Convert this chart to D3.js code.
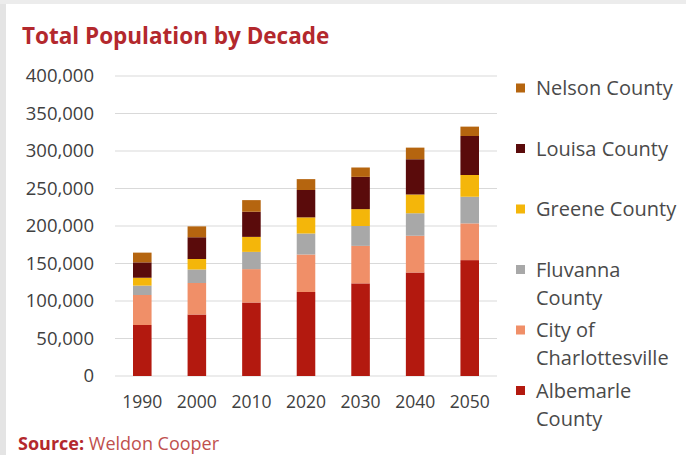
<!DOCTYPE html>
<html>
<head>
<meta charset="utf-8">
<script src="https://cdn.jsdelivr.net/npm/d3@7"></script>
<style>
  body { margin: 0; background: #fff; }
  svg { display: block; font-family: "Open Sans", sans-serif; }
</style>
</head>
<body>
<svg id="chart" width="686" height="455"></svg>
<script>
const years = ["1990", "2000", "2010", "2020", "2030", "2040", "2050"];
const seriesNames = ["Albemarle County", "City of Charlottesville", "Fluvanna County", "Greene County", "Louisa County", "Nelson County"];
const albemarle = [68000, 82000, 98000, 112000, 123500, 138000, 154500];
const charlottesville = [40000, 42000, 44500, 50000, 50000, 49000, 49000];
const fluvanna = [12500, 18000, 23000, 28000, 26500, 30000, 35500];
const greene = [10500, 14000, 20000, 21500, 22500, 25000, 29000];
const louisa = [20500, 29000, 33500, 36500, 43000, 47000, 52000];
const nelson = [13000, 14500, 15500, 14500, 12500, 15500, 12500];
const colors = ["#b3190f", "#f08f68", "#a8a8a8", "#f4b60a", "#5a0b0b", "#b5650f"];
const yTicks = [0, 50000, 100000, 150000, 200000, 250000, 300000, 350000, 400000];
// legend text, top to bottom, with line breaks as in the picture
const legendLines = [
  ["Nelson County"], ["Louisa County"], ["Greene County"],
  ["Fluvanna", "County"], ["City of", "Charlottesville"], ["Albemarle", "County"]
];

const svg = d3.select("#chart");
const seriesData = [albemarle, charlottesville, fluvanna, greene, louisa, nelson];

// left dotted strip of the original screenshot
svg.append("rect").attr("x", 0).attr("y", 0).attr("width", 6).attr("height", 455).attr("fill", "#e4e4e4");
svg.append("rect").attr("x", 0).attr("y", 0).attr("width", 686).attr("height", 4).attr("fill", "#ececec");

svg.append("text")
  .attr("x", 22).attr("y", 44)
  .attr("font-size", 22.5).attr("font-weight", "bold")
  .attr("fill", "#b3282d")
  .text("Total Population by Decade");

const x = d3.scaleBand().domain(years).range([115, 497]).paddingInner(0.66).paddingOuter(0.33);
const y = d3.scaleLinear().domain([0, 400000]).range([376, 76]);

// gridlines
svg.append("g").selectAll("line")
  .data(yTicks)
  .join("line")
  .attr("x1", 115).attr("x2", 497)
  .attr("y1", d => y(d)).attr("y2", d => y(d))
  .attr("stroke", "#d9d9d9").attr("stroke-width", 1.2);

const yAxis = svg.append("g")
  .attr("transform", "translate(94,0)")
  .call(d3.axisLeft(y).tickValues(yTicks).tickFormat(d3.format(",")).tickSize(0).tickPadding(0));
yAxis.select(".domain").remove();
yAxis.selectAll("text").attr("font-size", 18.5).attr("fill", "#404040").attr("font-family", "Open Sans");

const xAxis = svg.append("g")
  .attr("transform", "translate(0,396)")
  .call(d3.axisBottom(x).tickSize(0).tickPadding(0));
xAxis.select(".domain").remove();
xAxis.selectAll("text").attr("font-size", 17.5).attr("fill", "#404040").attr("font-family", "Open Sans");

const table = years.map((yr, i) => {
  const row = { year: yr };
  seriesNames.forEach((s, j) => row[s] = seriesData[j][i]);
  return row;
});
const stack = d3.stack().keys(seriesNames)(table);

svg.append("g").selectAll("g")
  .data(stack)
  .join("g")
  .attr("fill", (d, i) => colors[i])
  .selectAll("rect")
  .data(d => d)
  .join("rect")
  .attr("x", d => x(d.data.year))
  .attr("width", x.bandwidth())
  .attr("y", d => y(d[1]))
  .attr("height", d => y(d[0]) - y(d[1]));

// legend (top item is the top of the stack)
const legend = svg.append("g");
legendLines.forEach((lines, i) => {
  const cy = 88 + i * 60.5;
  legend.append("rect")
    .attr("x", 516).attr("y", cy - 4.5).attr("width", 9).attr("height", 9)
    .attr("fill", colors[colors.length - 1 - i]);
  lines.forEach((line, k) => {
    legend.append("text")
      .attr("x", 536).attr("y", cy + k * 28)
      .attr("dy", "0.35em")
      .attr("font-size", 20).attr("fill", "#4a4a4a")
      .text(line);
  });
});

const src = svg.append("text").attr("x", 18).attr("y", 450).attr("font-size", 18);
src.append("tspan").attr("font-weight", "bold").attr("fill", "#b3282d").text("Source: ");
src.append("tspan").attr("fill", "#c0504d").text("Weldon Cooper");
</script>
</body>
</html>
